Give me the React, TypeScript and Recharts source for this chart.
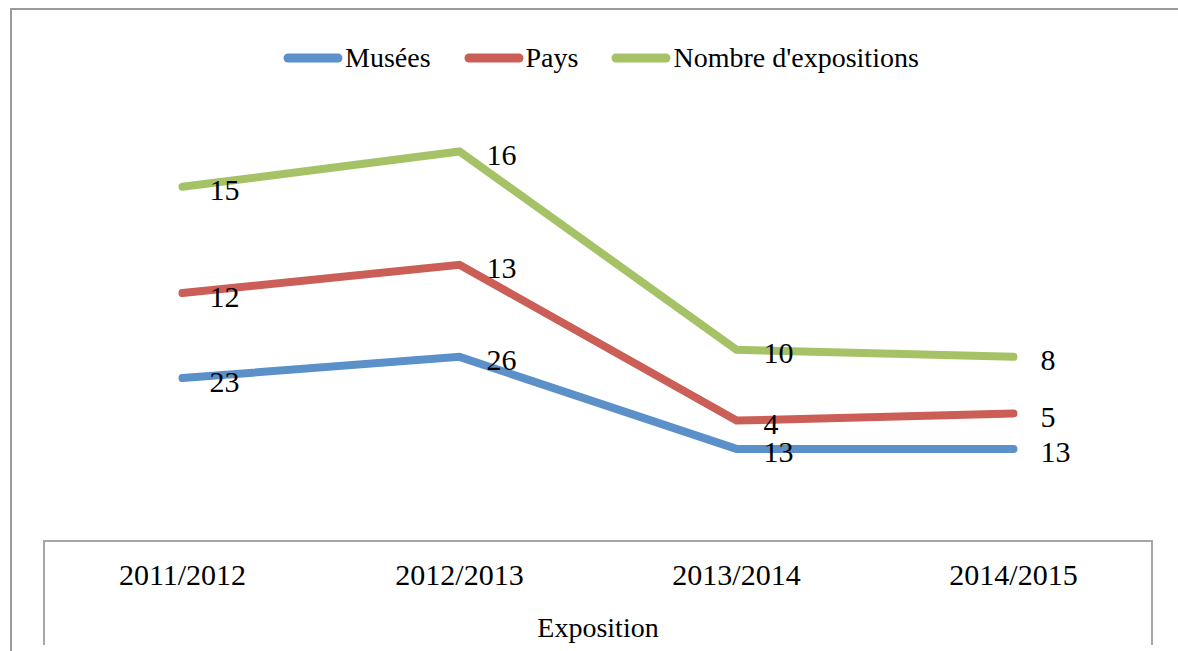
import { AreaChart, Area, XAxis, YAxis } from 'recharts';

const seasons = ['2011/2012', '2012/2013', '2013/2014', '2014/2015'];
const musees = [23, 26, 13, 13];
const pays = [12, 13, 4, 5];
const expositions = [15, 16, 10, 8];

const FONT = "'Liberation Serif', 'Times New Roman', serif";
const W = 1178;
const H = 651;
const X_AXIS_H = 30;
const MARGIN = { top: 116, right: 26, bottom: 110 - X_AXIS_H, left: 44 };

const series = [
  { key: 'musees', name: 'Musées', color: '#5B90C9', values: musees },
  { key: 'pays', name: 'Pays', color: '#CB5F57', values: pays },
  { key: 'expositions', name: "Nombre d'expositions", color: '#A6C266', values: expositions },
];

const data = seasons.map((season, i) => ({
  season,
  musees: musees[i],
  pays: pays[i],
  expositions: expositions[i],
}));

// legend sits above the plot, outside the chart so it doesn't shrink the plot area
function LegendRow() {
  return (
    <div
      style={{
        position: 'absolute',
        left: 283,
        top: 42,
        display: 'flex',
        alignItems: 'center',
        fontFamily: FONT,
        fontSize: 28,
        color: '#000',
      }}
    >
      {series.map((s) => (
        <div key={s.key} style={{ display: 'flex', alignItems: 'center', marginRight: 33 }}>
          <svg width={60} height={12} style={{ display: 'block' }}>
            <line x1={5} y1={6} x2={55} y2={6} stroke={s.color} strokeWidth={9} strokeLinecap="round" />
          </svg>
          <span style={{ marginLeft: 2 }}>{s.name}</span>
        </div>
      ))}
    </div>
  );
}

// label to the right of each point, showing the series' own value
function makeLabel(values: number[]) {
  return (props: any) => {
    const { x, y, index } = props;
    if (x == null || y == null) return null;
    return (
      <text x={x + 27} y={y + 3} dominantBaseline="central" fontFamily={FONT} fontSize={30} fill="#000">
        {values[index]}
      </text>
    );
  };
}

function SeasonTick(props: any) {
  const { x, y, payload } = props;
  return (
    <text x={x} y={y + 44} textAnchor="middle" fontFamily={FONT} fontSize={30} fill="#000">
      {payload.value}
    </text>
  );
}

export default function App() {
  const plotLeft = MARGIN.left;
  const plotRight = W - MARGIN.right;
  const axisY = H - 110;
  return (
    <div style={{ position: 'absolute', left: 0, top: 0, width: W, height: H, overflow: 'hidden', background: '#fff' }}>
      <div
        style={{
          position: 'absolute',
          left: 10,
          top: 8,
          width: W,
          height: H,
          borderTop: '2px solid #9a9a9a',
          borderLeft: '2px solid #9a9a9a',
        }}
      />
      <AreaChart width={W} height={H} data={data} margin={MARGIN} style={{ position: 'absolute', left: 0, top: 0 }}>
        <XAxis
          dataKey="season"
          height={X_AXIS_H}
          padding={{ left: 138.5, right: 138.5 }}
          axisLine={{ stroke: '#a6a6a6', strokeWidth: 2 }}
          tickLine={false}
          tickSize={0}
          tickMargin={0}
          tick={<SeasonTick />}
          interval={0}
        />
        <YAxis hide domain={[0, 60]} />
        {series.map((s) => (
          <Area
            key={s.key}
            type="linear"
            dataKey={s.key}
            name={s.name}
            stackId="total"
            stroke={s.color}
            strokeWidth={8}
            strokeLinecap="round"
            strokeLinejoin="miter"
            fill="none"
            fillOpacity={0}
            dot={false}
            activeDot={false}
            isAnimationActive={false}
            label={makeLabel(s.values)}
          />
        ))}
      </AreaChart>
      <LegendRow />
      <svg width={W} height={H} style={{ position: 'absolute', left: 0, top: 0, pointerEvents: 'none' }}>
        <line x1={plotLeft} y1={axisY - 1} x2={plotLeft} y2={645} stroke="#a6a6a6" strokeWidth={2} />
        <line x1={plotRight} y1={axisY - 1} x2={plotRight} y2={645} stroke="#a6a6a6" strokeWidth={2} />
        <text x={(plotLeft + plotRight) / 2} y={637} textAnchor="middle" fontFamily={FONT} fontSize={28} fill="#000">
          Exposition
        </text>
      </svg>
    </div>
  );
}
